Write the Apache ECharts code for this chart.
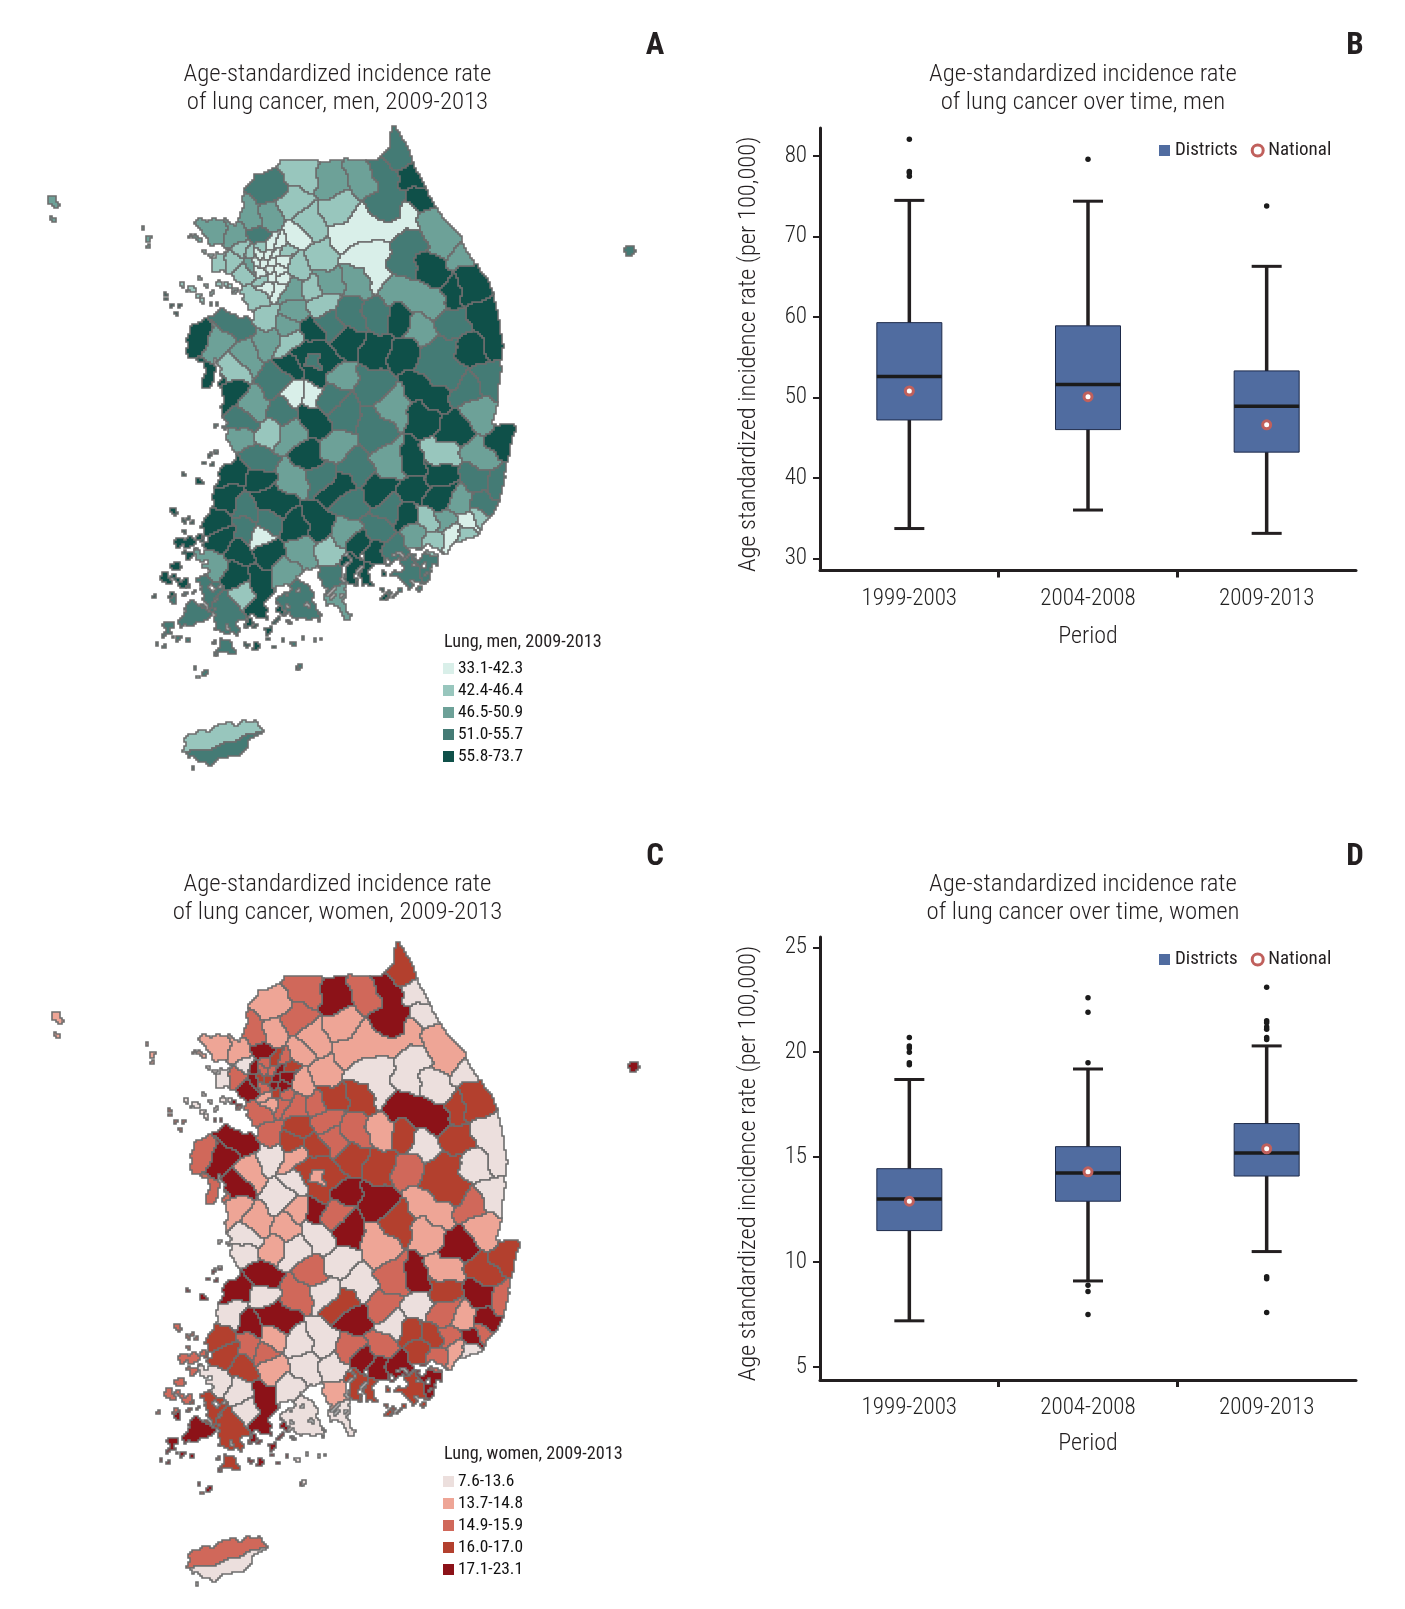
<!DOCTYPE html>
<html><head><meta charset="utf-8">
<style>html,body{margin:0;padding:0;background:#fff}#c{width:1405px;height:1609px}</style>
<script src="https://cdn.jsdelivr.net/npm/echarts@6/dist/echarts.min.js"></script>
</head><body><div id="c"></div>
<script>
const periods = ['1999-2003','2004-2008','2009-2013'];
const menBoxes = [[0,33.7,47.2,52.6,59.3,74.5],[1,36.0,46.0,51.6,58.9,74.4],[2,33.1,43.2,48.9,53.3,66.3]];
const menNational = [[0,50.8],[1,50.1],[2,46.6]];
const menOutliers = [[0,82.1],[0,78.1],[0,77.9],[0,77.5],[1,79.6],[2,73.8]];
const womenBoxes = [[0,7.2,11.5,13.0,14.45,18.7],[1,9.1,12.9,14.25,15.5,19.2],[2,10.5,14.1,15.2,16.6,20.3]];
const womenNational = [[0,12.9],[1,14.3],[2,15.4]];
const womenOutliers = [[0,20.7],[0,20.3],[0,20.2],[0,20.0],[0,19.5],[0,19.4],[1,22.6],[1,21.9],[1,19.5],[1,8.9],[1,8.6],[1,7.5],
  [2,23.1],[2,21.5],[2,21.4],[2,21.2],[2,21.1],[2,20.7],[2,20.6],[2,9.3],[2,9.2],[2,7.6]];
const menTicks = [30,40,50,60,70,80];
const womenTicks = [5,10,15,20,25];

// ---------- legend classes of the two maps ----------
const menClassLabels = ['33.1-42.3','42.4-46.4','46.5-50.9','51.0-55.7','55.8-73.7'];
const menClassBounds = [[33.1,42.3],[42.4,46.4],[46.5,50.9],[51.0,55.7],[55.8,73.7]];
const menClassColors = ['#d9efe9','#98c6bd','#6da198','#447b75','#0f5049'];
const womenClassLabels = ['7.6-13.6','13.7-14.8','14.9-15.9','16.0-17.0','17.1-23.1'];
const womenClassBounds = [[7.6,13.6],[13.7,14.8],[14.9,15.9],[16.0,17.0],[17.1,23.1]];
const womenClassColors = ['#ecdfdd','#eea596','#d0685a','#b3402e','#8c1218'];

// ---------- district rates: estimated from each district's legend class ----------
const menRatesNorth = [
 53,53,60,60,48.5,53,60,48.5,60,60,
 60,60,53,48.5,53,53,48.5,40,40,44,
 48.5,48.5,44,53,44,44,44,40,48.5,48.5,
 48.5,48.5,53,44,44,44,48.5,44,48.5,44,
 44,48.5,44,60,53,60,48.5,53,53,53,
 48.5,44,48.5,53,60,48.5,48.5,48.5,60,44,
 53,60,60,53,60,48.5,53,60,60,60,
 40,40,53,60,48.5,53,60,53,53,48.5,
 60,60,53,44,48.5,48.5,60,53];
const womenRatesNorth = [
 16.5,19,12,12,14.3,12,12,12,16.5,16.5,
 12,12,16.5,19,14.3,15.4,16.5,14.3,12,14.3,
 19,15.4,15.4,14.3,15.4,14.3,14.3,14.3,15.4,14.3,
 14.3,14.3,19,12,19,14.3,16.5,15.4,15.4,15.4,
 15.4,16.5,15.4,16.5,15.4,16.5,12,16.5,15.4,12,
 14.3,14.3,12,19,15.4,19,16.5,14.3,15.4,19,
 12,12,16.5,14.3,16.5,19,19,16.5,15.4,14.3,
 14.3,19,15.4,14.3,14.3,14.3,12,19,14.3,16.5,
 14.3,19,12,14.3,12,12,16.5,19];
const menRatesCapital = [44,40,40,40,40,40,44,40,40,40,40,40,40,40,44,40,40,40,40,44,48.5,44,44];
const womenRatesCapital = [15.4,16.5,15.4,15.4,15.4,19,16.5,16.5,16.5,19,19,15.4,19,19,14.3,16.5,15.4,14.3,15.4,19,19,12,15.4];
const menRatesSouth = [
 48.5,60,53,60,60,48.5,53,60,53,60,
 48.5,60,60,60,60,44,48.5,53,53,53,
 48.5,44,48.5,44,60,48.5,53,53,53,60,
 60,48.5,44,48.5,60,53,53,60,60,60,
 53,40,60,60,48.5,48.5,60,60,44,53,
 53,53,53,53,48.5,60,60,60,60,53,
 53,53,40,40,44,44,44,53,60];
const womenRatesSouth = [
 12,15.4,19,19,12,15.4,12,16.5,12,15.4,
 15.4,12,16.5,15.4,19,14.3,16.5,19,15.4,19,
 14.3,15.4,15.4,16.5,16.5,16.5,12,15.4,19,12,
 12,15.4,12,12,19,19,14.3,12,16.5,16.5,
 15.4,15.4,16.5,14.3,12,12,12,19,12,16.5,
 16.5,19,12,14.3,12,16.5,16.5,19,19,19,
 19,16.5,14.3,19,12,15.4,15.4,12,15.4];

// ---------- map geometry (base map for registerMap; units: 1/3 px) ----------
const seedsNorth = [
 [[795,85],[815,150]],[[765,190],[770,270],[790,310]],[[845,205]],[[870,265]],[[900,340],[960,390]],[[830,400],[820,470]],[[905,480]],[[1005,435]],[[1030,510],[1010,540]],[[965,555]],
 [[1070,620],[1095,690]],[[1030,725]],[[960,640]],[[790,530],[860,565],[925,575]],[[745,610]],[[665,620]],[[680,510]],[[640,385],[710,350],[790,345],[835,325]],[[690,440],[735,430],[740,490]],[[625,300]],
 [[605,210]],[[695,205]],[[515,190]],[[410,225]],[[490,290]],[[540,335]],[[580,435]],[[485,390]],[[365,325]],[[425,320]],
 [[250,365]],[[310,380]],[[380,380]],[[262,455]],[[345,480]],[[500,480]],[[590,515]],[[540,535]],[[485,545]],[[385,565]],
 [[410,615]],[[495,610]],[[575,575]],[[545,665]],[[595,640]],[[810,630]],[[865,660]],[[910,770],[930,720],[960,800]],[[1005,840]],[[1075,800]],
 [[1050,910]],[[480,700]],[[410,690]],[[320,650]],[[195,690]],[[265,705]],[[470,650]],[[350,735]],[[235,795]],[[305,775]],
 [[435,810]],[[490,770]],[[520,745],[600,750],[550,790],[550,710]],[[550,750]],[[650,705]],[[625,800]],[[730,825]],[[740,720]],[[825,735]],[[860,840],[915,860]],
 [[500,855]],[[540,850]],[[600,860]],[[300,860]],[[375,885]],[[460,905]],[[550,930]],[[645,920]],[[725,950]],[[800,885]],
 [[885,915]],[[965,960]],[[335,940]],[[412,965]],[[480,975]],[[330,985]],[[1115,985]],[[1500,423]]];
const seedsCapital = [[395,405],[420,400],[445,405],[390,430],[415,425],[440,430],[462,425],[385,455],[410,450],[435,455],[460,450],[395,478],[420,475],[445,478],[400,500],[425,500],[450,505],[410,525],[435,525],[365,430],[365,465],[340,425],[325,460]].map(p=>[p]);
const seedsSouth = [
 [[620,20]],[[540,50]],[[385,50]],[[305,100]],[[385,125]],[[480,125]],[[570,100]],[[625,140]],[[670,90]],[[750,150]],
 [[790,75]],[[850,150]],[[925,100]],[[930,165]],[[845,75]],[[935,40]],[[1060,50]],[[1040,120]],[[1100,120]],[[1060,190]],
 [[1000,195]],[[1050,235]],[[945,245]],[[890,245]],[[830,235]],[[855,280]],[[780,205]],[[740,265]],[[665,200]],[[560,250]],
 [[495,265]],[[645,280]],[[600,335]],[[520,335]],[[450,190],[410,165]],[[350,205]],[[410,240]],[[300,180]],[[255,240]],[[275,295]],
 [[345,275]],[[385,285]],[[330,340]],[[420,340]],[[455,400]],[[255,370]],[[315,410]],[[385,420],[390,500]],[[345,470]],[[290,505]],
 [[225,450]],[[190,525]],[[510,470]],[[605,410]],[[620,480]],[[668,395]],[[705,410]],[[695,310]],[[735,330]],[[790,335]],
 [[890,380]],[[835,400]],[[965,280]],[[1010,250]],[[1000,285]],[[915,290]],[[200,905],[280,880],[350,870]],[[210,955],[290,945],[370,905]],[[150,300],[140,400]]];
const coastEast = [[793,48],[825,95],[860,180],[915,290],[990,380],[1020,440],[1075,510],[1100,590],[1118,700],[1110,800],[1100,900],[1085,945],[1150,940],[1158,960],[1140,1010]];
const coastSouth = [[1140,30],[1125,100],[1115,160],[1095,210],[1060,265],[1000,305],[975,320],[945,335],[925,322],[880,325],[850,320],[830,345],[800,368],[760,370],[735,365],[725,375],[725,440],[695,440],[695,375],[683,375],[683,430],[650,430],[650,365],[640,370],[640,440],[655,540],[635,545],[625,500],[590,480],[575,420],[565,385],[530,395],[500,400],[555,480],[570,540],[540,545],[500,530],[450,510],[445,480],[480,440],[450,440],[415,470],[405,530],[375,535],[355,535],[330,530],[310,580],[280,585],[250,540],[240,500],[200,430],[225,410],[235,380],[210,340],[230,320],[215,270],[245,195],[260,130],[265,100],[320,55]];
const coastWest = [[300,1000],[280,920],[272,800],[255,735],[250,830],[220,830],[222,760],[175,740],[165,700],[190,655],[225,620],[270,600],[350,625],[375,640],[345,565],[325,510],[305,495],[245,480],[240,445],[300,430],[285,410],[235,395],[195,340],[215,328],[258,325],[325,345],[335,290],[350,230],[380,195],[445,170],[455,150],[530,150],[580,155],[640,148],[740,150],[780,110],[785,50]];
const jejuSouthFrame = [[155,930],[175,895],[215,870],[275,855],[340,842],[385,858],[400,865],[385,890],[350,925],[300,950],[260,965],[200,965],[170,950]];
const islandsNorth = [[-234,276,16],[-228,330,8],[40,355,6],[52,380,10],[57,403,6],[1500,423,16],[175,378,6],[190,385,6],[205,390,7],[225,425,6],[245,432,7],[265,438,7],[285,442,8],[155,520,7],[170,540,7],[185,545,8],[205,560,8],[222,572,6],[105,560,5],[112,572,5],[125,590,6],[155,580,6],[135,605,5],[215,505,6],[225,525,6],[240,545,6],[245,580,5],[265,580,5],[265,525,10],[290,530,10],[310,535,10],[330,545,7],[250,945,5],[280,960,5]];
const islandsSouth = [[240,40,7],[255,38,6],[225,65,6],[255,72,6],[160,102,6],[205,125,10],[130,212,10],[165,240,6],[180,235,6],[160,270,6],[190,255,6],[215,262,6],[150,300,14],[180,310,16],[210,300,12],[175,345,14],[205,350,14],[225,375,10],[135,375,14],[140,410,10],[110,420,16],[160,430,16],[130,470,16],[165,460,8],[75,468,6],[190,465,6],[190,525,36],[165,535,20],[215,515,22],[120,560,14],[140,590,10],[105,590,7],[170,600,8],[120,580,10],[70,610,5],[100,630,5],[280,620,18],[250,605,7],[305,630,12],[265,640,7],[295,640,8],[375,628,12],[345,615,6],[430,615,5],[480,610,8],[455,612,5],[520,590,6],[548,603,5],[568,598,5],[500,677,10],[215,695,8],[205,715,6],[225,700,5],[190,695,5],[320,565,14],[355,555,12],[380,560,8],[420,565,12],[440,545,9],[410,590,6],[450,520,12],[480,520,10],[475,550,6],[560,535,6],[860,380,42],[895,365,24],[830,410,24],[885,410,24],[820,370,14],[905,345,12],[865,440,8],[770,465,14],[800,462,8],[755,440,6],[765,395,9],[830,435,7],[800,405,8],[195,990,5]];
const inletsSouth = [[225,290,7],[215,330,7],[235,385,7],[240,440,8],[265,445,8],[330,540,7],[440,445,7],[535,410,9],[550,432,8],[600,450,8],[610,470,7],[632,470,6],[650,350,7],[690,350,7],[765,360,8],[810,350,7],[850,325,7],[870,345,9],[905,335,7],[860,345,7],[880,380,6],[850,420,7],[820,395,7],[900,400,7],[790,345,6],[845,365,6],[910,385,6],[575,460,7],[600,500,8],[620,515,7],[535,500,8],[480,500,7],[440,525,6],[300,565,6],[260,480,7],[255,510,6],[210,490,7],[190,425,7],[170,380,7],[150,345,7],[140,440,6],[150,500,6],[120,395,5],[125,445,5],[470,470,6],[500,450,6]];

const SOUTH = 990;
const toSouth = p => [p[0], p[1]+SOUTH].concat(p.slice(2));
const mainland = coastEast.concat(coastSouth.map(toSouth), coastWest);
const jeju = jejuSouthFrame.map(toSouth);
const islands = islandsNorth.concat(islandsSouth.map(toSouth));
const inlets = inletsSouth.map(toSouth);
const districtSeeds = seedsNorth.concat(seedsCapital, seedsSouth.map(s=>s.map(toSouth)));
const menRates = menRatesNorth.concat(menRatesCapital, menRatesSouth);
const womenRates = womenRatesNorth.concat(womenRatesCapital, womenRatesSouth);

function inPoly(x,y,poly){let c=false;for(let i=0,j=poly.length-1;i<poly.length;j=i++){const a=poly[i],b=poly[j];
  if((a[1]>y)!==(b[1]>y)&&x<(b[0]-a[0])*(y-a[1])/(b[1]-a[1])+a[0])c=!c;}return c;}
function buildBaseMap(){
  const CELL=6, X0=-270, Y0=30, NX=315, NY=330;
  const flat=[]; districtSeeds.forEach((ss,id)=>ss.forEach(s=>flat.push([s[0],s[1],id])));
  const grid=new Int16Array((NX+2)*(NY+2)).fill(-1);
  const at=(i,j)=>grid[(j+1)*(NX+2)+i+1];
  for(let j=0;j<NY;j++)for(let i=0;i<NX;i++){
    const x=X0+(i+.5)*CELL,y=Y0+(j+.5)*CELL;
    const a=y>1290?7:((x<420||y>1230)?5:1.5);
    const mx=x+a*(Math.sin(y/13+1.1)+.6*Math.sin(y/5.3+x/17)),my=y+a*(Math.sin(x/14+.3)+.6*Math.sin(x/6.1+y/19));
    let ok=false;
    if(mx>140&&mx<1175&&my>40&&my<2000) ok=inPoly(mx,my,mainland)||inPoly(mx,my,jeju);
    if(!ok) for(const b of islands){const dx=mx-b[0],dy=my-b[1];if(dx*dx+dy*dy<b[2]*b[2]){ok=true;break;}}
    if(ok) for(const b of inlets){const dx=mx-b[0],dy=my-b[1];if(dx*dx+dy*dy<b[2]*b[2]){ok=false;break;}}
    if(!ok) continue;
    const sx=x+7*Math.sin(y/23+.7)+4*Math.sin(y/9+x/31),sy=y+7*Math.sin(x/27+2.1)+4*Math.sin(x/11+y/37);
    let best=-1,bd=1e18;
    for(const s of flat){const d=(s[0]-sx)*(s[0]-sx)+(s[1]-sy)*(s[1]-sy);if(d<bd){bd=d;best=s[2];}}
    grid[(j+1)*(NX+2)+i+1]=best;
  }
  const edges=districtSeeds.map(()=>new Map());
  const add=(id,a,b,c,d)=>{const k=a+','+b;const m=edges[id];if(!m.has(k))m.set(k,[]);m.get(k).push([c,d]);};
  for(let j=0;j<NY;j++)for(let i=0;i<NX;i++){const L=at(i,j);if(L<0)continue;
    if(at(i,j-1)!==L)add(L,i,j,i+1,j);
    if(at(i+1,j)!==L)add(L,i+1,j,i+1,j+1);
    if(at(i,j+1)!==L)add(L,i+1,j+1,i,j+1);
    if(at(i-1,j)!==L)add(L,i,j+1,i,j);
  }
  let minX=1e9,minY=1e9,maxX=-1e9,maxY=-1e9;
  const features=[];
  edges.forEach((m,id)=>{
    const polys=[];let total=0;let holes=[];
    for(const key of Array.from(m.keys())){
      while(m.get(key)&&m.get(key).length){
        const start=key.split(',').map(Number);const ring=[start];let cur=start;
        for(;;){const k=cur[0]+','+cur[1];const l=m.get(k);if(!l||!l.length)break;const n=l.pop();
          if(n[0]===start[0]&&n[1]===start[1])break;ring.push(n);cur=n;}
        let area=0;for(let q=0;q<ring.length;q++){const a=ring[q],b=ring[(q+1)%ring.length];area+=a[0]*b[1]-b[0]*a[1];}
        const pts=[];
        ring.forEach((p,q)=>{const a=ring[(q-1+ring.length)%ring.length],b=ring[(q+1)%ring.length];
          if(!((a[0]===p[0]&&p[0]===b[0])||(a[1]===p[1]&&p[1]===b[1]))){
            const px=130+(X0+p[0]*CELL)/3,py=110+(Y0+p[1]*CELL)/3;
            minX=Math.min(minX,px);maxX=Math.max(maxX,px);minY=Math.min(minY,py);maxY=Math.max(maxY,py);
            pts.push([px,-py]);}});
        if(pts.length<3)continue;
        pts.push(pts[0].slice());
        if(area>0){total+=area;polys.push([pts]);}
        else holes.push(pts);
      }
    }
    // coastal inlets stay open: attach each hole to the ring that surrounds it
    holes.forEach(h=>{const hp=h[0];
      for(const poly of polys){if(inPoly(hp[0],hp[1],poly[0])){poly.push(h);break;}}});
    if(polys.length)features.push({type:'Feature',properties:{name:'d'+id},area:total,geometry:{type:'MultiPolygon',coordinates:polys}});
  });
  features.sort((a,b)=>b.area-a.area);
  return {geo:{type:'FeatureCollection',features},box:{x:minX,y:minY,w:maxX-minX,h:maxY-minY}};
}
const base=buildBaseMap();
echarts.registerMap('koreaMen',base.geo);
echarts.registerMap('koreaWomen',JSON.parse(JSON.stringify(base.geo)));

const FONT='"Roboto Condensed","Liberation Sans",sans-serif';
const INK='#231f20';
function mapSeries(mapName,rates,dx,dy){
  return {type:'map',map:mapName,aspectScale:1,roam:false,silent:true,selectedMode:false,showLegendSymbol:false,
    left:base.box.x+dx,top:base.box.y+dy,width:base.box.w,height:base.box.h,
    label:{show:false},emphasis:{disabled:true},
    itemStyle:{borderColor:'#6d6d6d',borderWidth:1.6,areaColor:'#6d6d6d'},
    data:rates.map((v,i)=>({name:'d'+i,value:v}))};
}
function classPieces(labels,bounds,colors){return labels.map((l,i)=>({min:bounds[i][0],max:bounds[i][1],label:l,color:colors[i]}));}
function mapLegend(seriesIndex,top,pieces){
  return {type:'piecewise',seriesIndex,left:443,top,padding:0,orient:'vertical',inverse:true,itemWidth:11,itemHeight:11,itemGap:5,itemSymbol:'rect',textGap:4,
    selectedMode:false,pieces,hoverLink:false,textStyle:{fontFamily:FONT,fontSize:17.4,color:'#111'}};
}
function renderBox(params,api){
  const i=api.value(0),x=api.coord([i,0])[0];
  const y=v=>api.coord([i,v])[1];
  const lo=y(api.value(1)),q1=y(api.value(2)),me=y(api.value(3)),q3=y(api.value(4)),hi=y(api.value(5));
  const lw={stroke:INK,lineWidth:3.5},cap={stroke:INK,lineWidth:3};
  return {type:'group',children:[
    {type:'line',shape:{x1:x,y1:lo,x2:x,y2:hi},style:lw},
    {type:'line',shape:{x1:x-15,y1:lo,x2:x+15,y2:lo},style:cap},
    {type:'line',shape:{x1:x-15,y1:hi,x2:x+15,y2:hi},style:cap},
    {type:'rect',shape:{x:x-32.5,y:q3,width:65,height:q1-q3},style:{fill:'#506ca0',stroke:'#1d2a4a',lineWidth:1}},
    {type:'line',shape:{x1:x-32.5,y1:me,x2:x+32.5,y2:me},style:{stroke:'#1b1b1b',lineWidth:3.5}}
  ]};
}
function catAxis(gridIndex,gap){return {type:'category',gridIndex,data:periods,name:'Period',nameLocation:'middle',nameGap:gap,
  nameTextStyle:{fontFamily:FONT,fontWeight:300,fontSize:24,color:INK},
  axisLine:{lineStyle:{color:INK,width:3}},axisTick:{show:false},
  axisLabel:{fontFamily:FONT,fontWeight:300,fontSize:23,color:'#222',margin:17}};}
function tickAxis(gridIndex){return {type:'value',gridIndex,min:0,max:3,position:'bottom',
  axisLine:{show:false},splitLine:{show:false},axisLabel:{show:false},
  axisTick:{show:true,length:7,customValues:[1,2],lineStyle:{color:INK,width:3}}};}
function valAxis(gridIndex,min,max,ticks,gap){return {type:'value',gridIndex,min,max,
  name:'Age standardized incidence rate (per 100,000)',nameLocation:'middle',nameGap:gap,nameRotate:90,
  nameTextStyle:{fontFamily:FONT,fontWeight:300,fontSize:24.5,color:INK,padding:[0,10,0,0]},splitLine:{show:false},
  axisLine:{show:true,lineStyle:{color:INK,width:3}},
  axisTick:{show:true,length:7,customValues:ticks,lineStyle:{color:INK,width:2}},
  axisLabel:{fontFamily:FONT,fontWeight:300,fontSize:23,color:'#222',margin:13,padding:[3,0,0,0],customValues:ticks}};}
function legendFor(top){return {selectedMode:false,left:1159,top,padding:0,itemWidth:11,itemHeight:11,itemGap:13,textStyle:{fontFamily:FONT,fontSize:19,color:INK},
  data:[{name:'Districts',icon:'rect',itemStyle:{color:'#506ca0',borderWidth:0}},
        {name:'National',icon:'circle',itemStyle:{color:'#fff',borderColor:'#c0605c',borderWidth:3}}]};}
function boxSeries(ax,box,out,nat){return [
  {type:'custom',name:'Districts',xAxisIndex:ax*2,yAxisIndex:ax,renderItem:renderBox,data:box,encode:{x:0,y:[1,2,3,4,5]},itemStyle:{color:'#506ca0'},z:2,silent:true,animation:false},
  {type:'scatter',name:'Outliers',xAxisIndex:ax*2,yAxisIndex:ax,data:out,symbolSize:5.5,itemStyle:{color:'#1b1b1b',opacity:1},z:3,silent:true},
  {type:'scatter',name:'National',xAxisIndex:ax*2,yAxisIndex:ax,data:nat,symbolSize:8,itemStyle:{color:'#fff',borderColor:'#c0605c',borderWidth:3,opacity:1},z:4,silent:true}
];}
function title(text,x,y,size,weight,align,lh){return {text,left:x,top:y,textAlign:align||'center',padding:0,
  textStyle:{fontFamily:FONT,fontSize:size,fontWeight:weight||300,color:INK,lineHeight:lh||28}};}

const chart=echarts.init(document.getElementById('c'),null,{renderer:'canvas'});
chart.setOption({
  animation:false,backgroundColor:'#fff',
  title:[
    title('Age-standardized incidence rate\nof lung cancer, men, 2009-2013',337.5,61,24.8),
    title('Age-standardized incidence rate\nof lung cancer over time, men',1083,61,24.8),
    title('Age-standardized incidence rate\nof lung cancer, women, 2009-2013',337.5,871,24.8),
    title('Age-standardized incidence rate\nof lung cancer over time, women',1083,871,24.8),
    title('A',655,32,31,'bold'),title('B',1355,32,31,'bold'),title('C',655,843,31,'bold'),title('D',1355,843,31,'bold'),
    title('Lung, men, 2009-2013',444,632,18.2,'normal','left',20),
    title('Lung, women, 2009-2013',444,1444,18.2,'normal','left',20)
  ],
  grid:[{left:820,right:49,top:128,height:442.6},{left:820,right:49,top:937,height:443}],
  xAxis:[catAxis(0,54),tickAxis(0),catAxis(1,52),tickAxis(1)],
  yAxis:[valAxis(0,28.47,83.5,menTicks,59),valAxis(1,4.38,25.49,womenTicks,59)],
  legend:[legendFor(141),legendFor(950)],
  visualMap:[
    mapLegend(0,660,classPieces(menClassLabels,menClassBounds,menClassColors)),
    mapLegend(1,1473,classPieces(womenClassLabels,womenClassBounds,womenClassColors))
  ],
  series:[mapSeries('koreaMen',menRates,0,0),mapSeries('koreaWomen',womenRates,4,816)]
    .concat(boxSeries(0,menBoxes,menOutliers,menNational),boxSeries(1,womenBoxes,womenOutliers,womenNational))
});
</script></body></html>
